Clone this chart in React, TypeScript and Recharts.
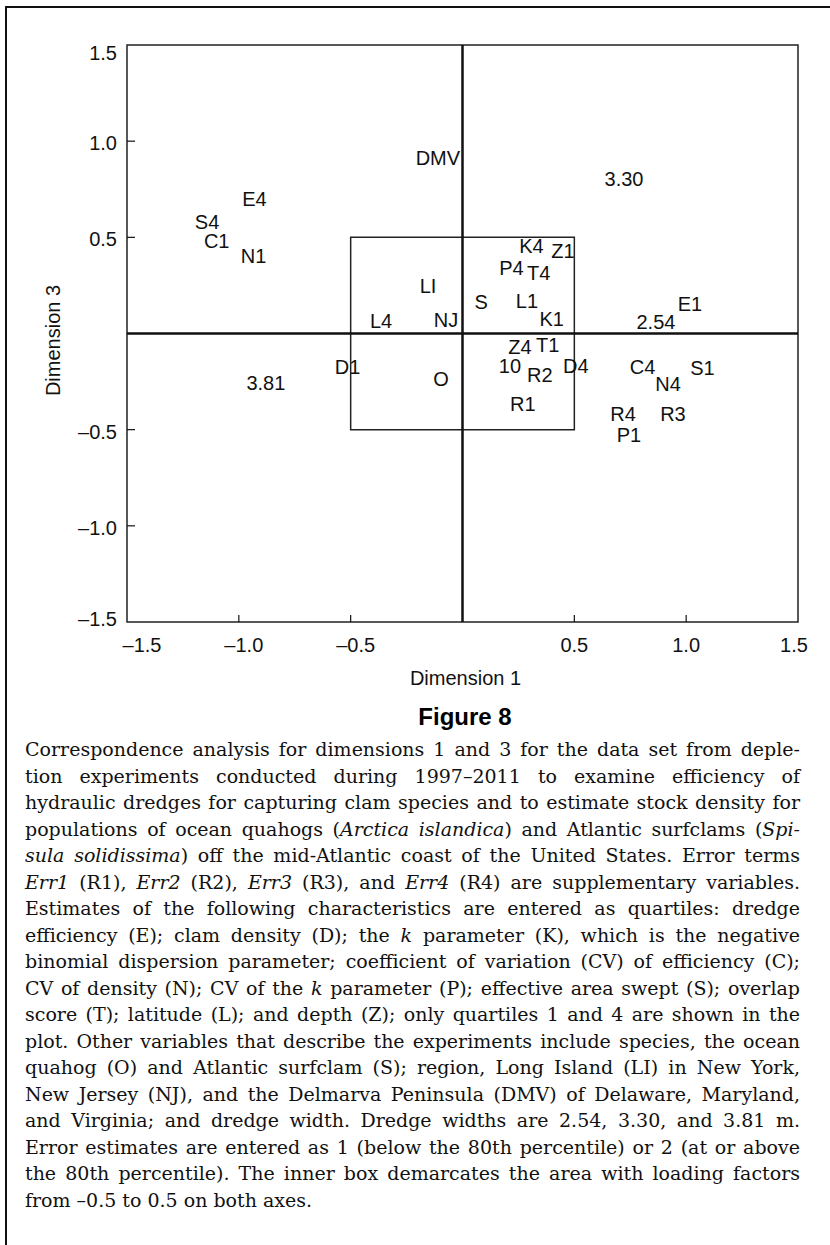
import { ScatterChart, Scatter, XAxis, YAxis, ReferenceLine, ReferenceArea, Label } from 'recharts';

// quartile variables (E, D, K, C, N, P, S, T, L, Z), quartiles 1 and 4
const quartileLabels = ['E1', 'E4', 'D1', 'D4', 'K1', 'K4', 'C1', 'C4', 'N1', 'N4', 'P1', 'P4', 'S1', 'S4', 'T1', 'T4', 'L1', 'L4', 'Z1', 'Z4'];
const quartileDim1 = [1.017, -0.93, -0.514, 0.507, 0.399, 0.308, -1.099, 0.805, -0.934, 0.919, 0.744, 0.219, 1.073, -1.142, 0.381, 0.341, 0.288, -0.364, 0.449, 0.257];
const quartileDim3 = [0.154, 0.697, -0.175, -0.167, 0.077, 0.457, 0.483, -0.175, 0.403, -0.264, -0.529, 0.342, -0.181, 0.581, -0.062, 0.316, 0.17, 0.067, 0.427, -0.07];

// supplementary error terms
const errorLabels = ['R1', 'R2', 'R3', 'R4'];
const errorDim1 = [0.27, 0.346, 0.941, 0.718];
const errorDim3 = [-0.365, -0.216, -0.421, -0.421];

// species, region, dredge width, error estimate
const otherLabels = ['O', 'S', 'LI', 'NJ', 'DMV', '2.54', '3.30', '3.81', '10'];
const otherDim1 = [-0.096, 0.083, -0.154, -0.074, -0.11, 0.865, 0.722, -0.879, 0.212];
const otherDim3 = [-0.237, 0.162, 0.247, 0.072, 0.915, 0.059, 0.804, -0.256, -0.167];

const axisTicks = [-1.5, -1, -0.5, 0.5, 1, 1.5];

const toRows = (labels: string[], xs: number[], ys: number[]) =>
  labels.map((label, i) => ({ label, x: xs[i], y: ys[i] }));

const quartileRows = toRows(quartileLabels, quartileDim1, quartileDim3);
const errorRows = toRows(errorLabels, errorDim1, errorDim3);
const otherRows = toRows(otherLabels, otherDim1, otherDim3);

const SANS = "'Liberation Sans', Arial, Helvetica, sans-serif";
const INK = '#111';

const fmt = (v: number) => (v < 0 ? '\u2013' : '') + Math.abs(v).toFixed(1);

const TextMark = (props: any) => {
  const { cx, cy, payload } = props;
  return (
    <text x={cx} y={cy + 7} textAnchor="middle" fontSize={20} fontFamily={SANS} fill={INK}>
      {payload.label}
    </text>
  );
};

const XTick = (props: any) => {
  const { x, y, payload } = props;
  const v = payload.value;
  const edge = Math.abs(v) === 1.5;
  const dx = v === -1.5 ? 15 : v === 1.5 ? -4 : v < 0 ? 5 : 0;
  return (
    <g>
      {!edge && <line x1={x} x2={x} y1={y} y2={y - 7} stroke={INK} strokeWidth={1.2} />}
      <text x={x + dx} y={y + 30} textAnchor="middle" fontSize={20} fontFamily={SANS} fill={INK}>
        {fmt(v)}
      </text>
    </g>
  );
};

const YTick = (props: any) => {
  const { x, y, payload } = props;
  const v = payload.value;
  const edge = Math.abs(v) === 1.5;
  const dy = v === 1.5 ? 15 : v === -1.5 ? 4 : 9;
  return (
    <g>
      {!edge && <line x1={x} x2={x + 8} y1={y} y2={y} stroke={INK} strokeWidth={1.2} />}
      <text x={x - 10} y={y + dy} textAnchor="end" fontSize={20} fontFamily={SANS} fill={INK}>
        {fmt(v)}
      </text>
    </g>
  );
};

const XTitle = (props: any) => {
  const { x, y, width } = props.viewBox;
  return (
    <text x={x + width / 2 + 3} y={y + 63} textAnchor="middle" fontSize={20} fontFamily={SANS} fill={INK}>
      Dimension 1
    </text>
  );
};

const YTitle = (props: any) => {
  const { x, y, height } = props.viewBox;
  const cx = x + 40;
  const cy = y + height / 2 + 7;
  return (
    <text
      x={cx}
      y={cy}
      transform={`rotate(-90, ${cx}, ${cy})`}
      textAnchor="middle"
      fontSize={20}
      fontFamily={SANS}
      fill={INK}
    >
      Dimension 3
    </text>
  );
};

const captionLines = [
  <>Correspondence analysis for dimensions 1 and 3 for the data set from deple-</>,
  <>tion experiments conducted during 1997–2011 to examine efficiency of</>,
  <>hydraulic dredges for capturing clam species and to estimate stock density for</>,
  <>
    populations of ocean quahogs (<i>Arctica islandica</i>) and Atlantic surfclams (<i>Spi-</i>
  </>,
  <>
    <i>sula solidissima</i>) off the mid-Atlantic coast of the United States. Error terms
  </>,
  <>
    <i>Err1</i> (R1), <i>Err2</i> (R2), <i>Err3</i> (R3), and <i>Err4</i> (R4) are supplementary variables.
  </>,
  <>Estimates of the following characteristics are entered as quartiles: dredge</>,
  <>
    efficiency (E); clam density (D); the <i>k</i> parameter (K), which is the negative
  </>,
  <>binomial dispersion parameter; coefficient of variation (CV) of efficiency (C);</>,
  <>
    CV of density (N); CV of the <i>k</i> parameter (P); effective area swept (S); overlap
  </>,
  <>score (T); latitude (L); and depth (Z); only quartiles 1 and 4 are shown in the</>,
  <>plot. Other variables that describe the experiments include species, the ocean</>,
  <>quahog (O) and Atlantic surfclam (S); region, Long Island (LI) in New York,</>,
  <>New Jersey (NJ), and the Delmarva Peninsula (DMV) of Delaware, Maryland,</>,
  <>and Virginia; and dredge width. Dredge widths are 2.54, 3.30, and 3.81 m.</>,
  <>Error estimates are entered as 1 (below the 80th percentile) or 2 (at or above</>,
  <>the 80th percentile). The inner box demarcates the area with loading factors</>,
  <>from –0.5 to 0.5 on both axes.</>,
];

export default function App() {
  return (
    <div style={{ position: 'absolute', left: 0, top: 0, width: 830, height: 1245, overflow: 'hidden', background: '#fff' }}>
      <div
        style={{
          position: 'absolute',
          left: 5,
          top: 6,
          right: -10,
          bottom: -10,
          borderTop: '2.5px solid #111',
          borderLeft: '2.5px solid #111',
        }}
      />
      <div style={{ position: 'absolute', left: 0, top: 0 }}>
        <ScatterChart width={830} height={700} margin={{ top: 45, right: 32, bottom: 0, left: 20 }}>
          <XAxis
            type="number"
            dataKey="x"
            domain={[-1.5, 1.5]}
            ticks={axisTicks}
            interval={0}
            allowDataOverflow
            height={78}
            axisLine={false}
            tickLine={false}
            tickSize={0}
            tickMargin={0}
            tick={XTick}
          >
            <Label content={XTitle} />
          </XAxis>
          <YAxis
            type="number"
            dataKey="y"
            domain={[-1.5, 1.5]}
            ticks={axisTicks}
            interval={0}
            allowDataOverflow
            width={107}
            axisLine={false}
            tickLine={false}
            tickSize={0}
            tickMargin={0}
            tick={YTick}
          >
            <Label content={YTitle} />
          </YAxis>
          <ReferenceArea x1={-1.5} x2={1.5} y1={-1.5} y2={1.5} fill="none" fillOpacity={0} stroke="#222" strokeWidth={1.5} />
          <ReferenceArea x1={-0.5} x2={0.5} y1={-0.5} y2={0.5} fill="none" fillOpacity={0} stroke="#222" strokeWidth={1.5} />
          <ReferenceLine x={0} stroke={INK} strokeWidth={2.5} />
          <ReferenceLine y={0} stroke={INK} strokeWidth={2.5} />
          <Scatter data={quartileRows} shape={TextMark} isAnimationActive={false} />
          <Scatter data={errorRows} shape={TextMark} isAnimationActive={false} />
          <Scatter data={otherRows} shape={TextMark} isAnimationActive={false} />
        </ScatterChart>
      </div>
      <div
        style={{
          position: 'absolute',
          left: 0,
          width: 930,
          top: 703,
          textAlign: 'center',
          fontFamily: SANS,
          fontWeight: 'bold',
          fontSize: 24,
          lineHeight: '28px',
          color: '#000',
        }}
      >
        Figure 8
      </div>
      <div
        style={{
          position: 'absolute',
          left: 25,
          width: 775,
          top: 736,
          fontFamily: "'DejaVu Serif', 'Liberation Serif', serif",
          fontSize: 19,
          lineHeight: '26.5px',
          color: '#111',
        }}
      >
        {captionLines.map((line, i) => (
          <div
            key={i}
            style={{
              textAlign: 'justify',
              textAlignLast: i === captionLines.length - 1 ? 'left' : 'justify',
              height: 26.5,
            }}
          >
            {line}
          </div>
        ))}
      </div>
    </div>
  );
}
